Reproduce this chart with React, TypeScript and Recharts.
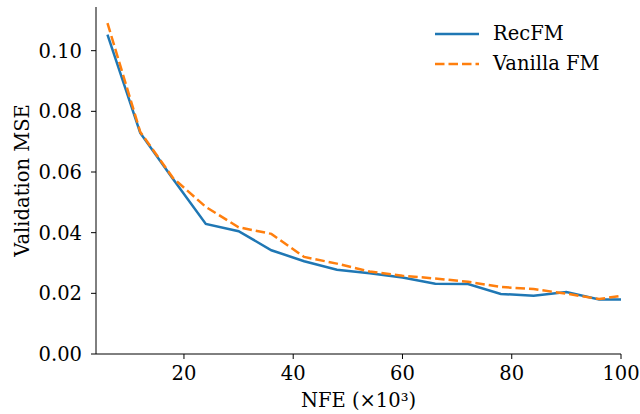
import { LineChart, Line, XAxis, YAxis } from "recharts";

const NFE = [6, 12, 18, 24, 30, 36, 42, 48, 54, 60, 66, 72, 78, 84, 90, 96, 100];
const RECFM = [0.1053, 0.0729, 0.0577, 0.0429, 0.0405, 0.0342, 0.0306, 0.0278, 0.0266, 0.0252, 0.0232, 0.0231, 0.0198, 0.0192, 0.0204, 0.018, 0.018];
const VANILLA = [0.1091, 0.0732, 0.058, 0.0485, 0.0418, 0.0396, 0.032, 0.0298, 0.0272, 0.0258, 0.0249, 0.0238, 0.0221, 0.0214, 0.0199, 0.0181, 0.0192];
const X_TICKS = [20, 40, 60, 80, 100];
const Y_TICKS = [0, 0.02, 0.04, 0.06, 0.08, 0.1];

const SERIES = [
  { key: "recfm", name: "RecFM", color: "#1f77b4", dash: undefined },
  { key: "vanilla", name: "Vanilla FM", color: "#ff7f0e", dash: "9.5 4" },
];

const data = NFE.map((x, i) => ({ x, recfm: RECFM[i], vanilla: VANILLA[i] }));

const FONT = "'DejaVu Serif', serif";
const FS = 19.5;
const LW = 2.5;

function LegendBox() {
  return (
    <div style={{ position: "absolute", left: 435, top: 19, fontFamily: FONT, fontSize: FS, color: "#000", lineHeight: "30px" }}>
      {SERIES.map((s) => (
        <div key={s.key} style={{ display: "flex", alignItems: "center", height: 30 }}>
          <svg width={44} height={10} style={{ marginRight: 14 }}>
            <line x1={0} y1={5} x2={44} y2={5} stroke={s.color} strokeWidth={LW} strokeDasharray={s.dash} />
          </svg>
          <span>{s.name}</span>
        </div>
      ))}
    </div>
  );
}

export default function App() {
  return (
    <div style={{ position: "absolute", left: 0, top: 0, width: 640, height: 414, background: "#fff" }}>
      <LineChart width={640} height={414} data={data} margin={{ top: 7, right: 19, left: 0, bottom: 0 }}>
        <XAxis
          dataKey="x"
          type="number"
          domain={[3.9, 100]}
          ticks={X_TICKS}
          allowDataOverflow
          height={60}
          stroke="#000"
          tickSize={5}
          tickMargin={7}
          tick={{ fontSize: FS, fontFamily: FONT, fill: "#000" }}
          label={{ value: "NFE (×10³)", position: "insideBottom", offset: 7, style: { fontSize: FS, fontFamily: FONT, fill: "#000" } }}
        />
        <YAxis
          type="number"
          domain={[0, 0.1144]}
          ticks={Y_TICKS}
          allowDataOverflow
          width={96}
          stroke="#000"
          tickSize={5}
          tickMargin={9}
          tickFormatter={(v: number) => v.toFixed(2)}
          tick={{ fontSize: FS, fontFamily: FONT, fill: "#000" }}
          label={{ value: "Validation MSE", angle: -90, position: "insideLeft", offset: 22, style: { fontSize: FS, fontFamily: FONT, fill: "#000", textAnchor: "middle" } }}
        />
        {SERIES.map((s) => (
          <Line
            key={s.key}
            dataKey={s.key}
            name={s.name}
            stroke={s.color}
            strokeWidth={LW}
            strokeDasharray={s.dash}
            dot={false}
            isAnimationActive={false}
          />
        ))}
      </LineChart>
      <LegendBox />
    </div>
  );
}
